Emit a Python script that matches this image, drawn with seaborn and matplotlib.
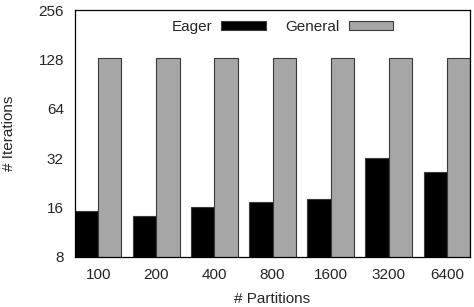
import pandas as pd
import seaborn as sns
import matplotlib.pyplot as plt
from matplotlib.patches import Patch

# données
partitions = ["100", "200", "400", "800", "1600", "3200", "6400"]
eager = [15.2, 14.2, 16.1, 17.2, 18.1, 32.2, 26.3]
general = [130, 130, 130, 130, 130, 130, 130]

df = pd.DataFrame({
    "Partitions": partitions * 2,
    "Iterations": eager + general,
    "Mode": ["Eager"] * len(partitions) + ["General"] * len(partitions),
})

sns.set_style("white")
plt.rcParams["font.family"] = ["Liberation Sans", "DejaVu Sans"]
fs = 11

fig = plt.figure(figsize=(4.74, 3.07), dpi=100)
ax = fig.add_axes([75 / 474, 50 / 307, 395 / 474, 247 / 307])

colors = {"Eager": "#000000", "General": "#a6a6a6"}
sns.barplot(data=df, x="Partitions", y="Iterations", hue="Mode",
            palette=colors, order=partitions, width=0.8,
            edgecolor="#3a3a3a", linewidth=0.8, legend=False, ax=ax)

ax.set_yscale("log", base=2)
ax.set_ylim(8, 256)
ax.set_xlim(-0.4, 6.4)
yt = [8, 16, 32, 64, 128, 256]
ax.set_yticks(yt)
ax.set_yticklabels([str(v) for v in yt])
ax.minorticks_off()
ax.tick_params(length=0, labelsize=fs, pad=8)
ax.set_xlabel("# Partitions", fontsize=fs, labelpad=7)
ax.set_ylabel("# Iterations", fontsize=fs)
ax.yaxis.set_label_coords(-0.15, 0.5)

for s in ax.spines.values():
    s.set_color("black")
    s.set_linewidth(0.9)

handles = [Patch(facecolor=colors[m], edgecolor="#3a3a3a", linewidth=0.8) for m in ["Eager", "General"]]
ax.legend(handles, ["Eager", "General"], ncol=2, markerfirst=False, frameon=False,
          loc="upper center", bbox_to_anchor=(0.525, 1.015), handlelength=2.9,
          handleheight=0.5, columnspacing=1.3, handletextpad=0.6, fontsize=fs)

fig.savefig("out.png", dpi=100)
